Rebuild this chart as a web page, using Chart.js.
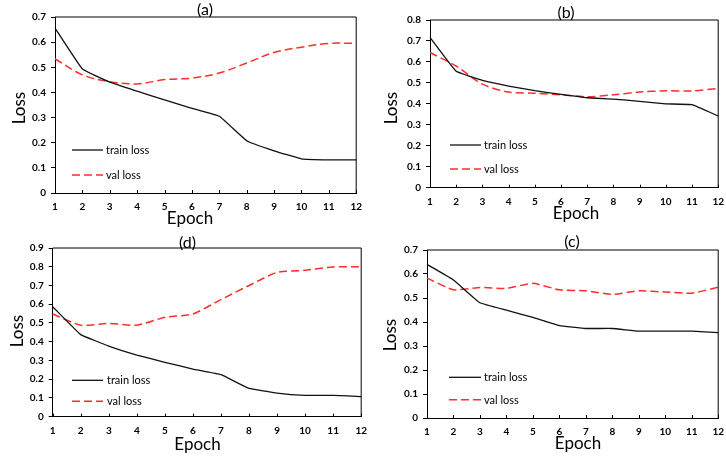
<!DOCTYPE html>
<html>
<head>
<meta charset="utf-8">
<script src="https://cdn.jsdelivr.net/npm/chart.js@4.4.1/dist/chart.umd.min.js"></script>
<style>
  html, body { margin:0; padding:0; background:#fff; }
  body { width:726px; height:457px; overflow:hidden; position:relative; }
  canvas { position:absolute; }
</style>
</head>
<body>
<canvas id="ca"></canvas>
<canvas id="cb"></canvas>
<canvas id="cd"></canvas>
<canvas id="cc"></canvas>
<script>
// ---------------- DATA ----------------
const epochs = ['1','2','3','4','5','6','7','8','9','10','11','12'];

const trainA = [0.656,0.493,0.441,0.405,0.370,0.337,0.305,0.208,0.168,0.136,0.132,0.132];
const valA   = [0.534,0.470,0.443,0.434,0.451,0.457,0.477,0.517,0.559,0.580,0.595,0.595];

const trainB = [0.717,0.555,0.512,0.485,0.463,0.445,0.429,0.423,0.412,0.400,0.396,0.342];
const valB   = [0.645,0.580,0.494,0.456,0.451,0.443,0.434,0.443,0.456,0.462,0.462,0.473];

const trainD = [0.587,0.438,0.377,0.329,0.290,0.254,0.224,0.151,0.126,0.114,0.114,0.107];
const valD   = [0.548,0.488,0.498,0.488,0.530,0.548,0.625,0.700,0.770,0.781,0.799,0.800];

const trainC = [0.640,0.575,0.480,0.449,0.419,0.385,0.373,0.373,0.362,0.362,0.362,0.356];
const valC   = [0.583,0.534,0.544,0.540,0.561,0.534,0.530,0.515,0.530,0.525,0.520,0.545];

const yTicksA = ['0','0.1','0.2','0.3','0.4','0.5','0.6','0.7'];
const yTicksB = ['0','0.1','0.2','0.3','0.4','0.5','0.6','0.7','0.8'];
const yTicksD = ['0','0.1','0.2','0.3','0.4','0.5','0.6','0.7','0.8','0.9'];
const yTicksC = ['0','0.1','0.2','0.3','0.4','0.5','0.6','0.7'];

const seriesNames = ['train loss','val loss'];
const panelTitles = ['(a)','(b)','(d)','(c)'];
const xTitle = 'Epoch';
const yTitle = 'Loss';

// ---------------- LAYOUT / STYLE ----------------
const FONT = 'Lato, "Open Sans", "Liberation Sans", sans-serif';
const panels = [
  {id:'ca', train:trainA, val:valA, yt:yTicksA, left:0,   top:0,   h:228,
   plot:{l:55,r:358,t:17,b:193}, title:[205,9.7], epoch:[190,218.3], loss:[20,108],
   leg:{x0:72,x1:103,tx:106,y:[150,175]}, tv:0.35},
  {id:'cb', train:trainB, val:valB, yt:yTicksB, left:363, top:0,   h:228,
   plot:{l:430,r:720,t:20,b:187.7}, title:[566,12.8], epoch:[576,214], loss:[392,108],
   leg:{x0:450,x1:481,tx:484,y:[145,169]}, tv:0.3},
  {id:'cd', train:trainD, val:valD, yt:yTicksD, left:0,   top:228, h:229,
   plot:{l:52.7,r:363,t:248,b:416.7}, title:[187.5,243], epoch:[197.5,445], loss:[17.5,331],
   leg:{x0:72,x1:103,tx:107,y:[380.3,401.3]}, tv:0.2},
  {id:'cc', train:trainC, val:valC, yt:yTicksC, left:363, top:228, h:229,
   plot:{l:427,r:720.3,t:250,b:418}, title:[572,241.5], epoch:[578,443.3], loss:[390.5,335],
   leg:{x0:449,x1:481,tx:484,y:[377.3,399.7]}, tv:0.15}
];

const decor = {
  id: 'decor',
  afterDraw(chart, args, o) {
    const ctx = chart.ctx, ca = chart.chartArea;
    ctx.save();
    ctx.strokeStyle = '#000'; ctx.lineWidth = 1; ctx.setLineDash([]);
    ctx.beginPath();
    ctx.moveTo(ca.left, ca.top); ctx.lineTo(ca.right, ca.top); ctx.lineTo(ca.right, ca.bottom);
    ctx.stroke();
    // inward x tick marks
    const xs = chart.scales.x;
    ctx.beginPath();
    xs.ticks.forEach((t, i) => {
      const x = Math.round(xs.getPixelForTick(i)) + 0.5;
      ctx.moveTo(x, ca.bottom); ctx.lineTo(x, ca.bottom - 3);
    });
    ctx.stroke();
    ctx.fillStyle = '#000';
    ctx.textAlign = 'center'; ctx.textBaseline = 'middle';
    o.texts.forEach(t => {
      ctx.save();
      ctx.font = t.font;
      ctx.translate(t.x - o.ox, t.y - o.oy);
      if (t.rot) ctx.rotate(-Math.PI / 2);
      ctx.fillText(t.text, 0, 0);
      ctx.restore();
    });
    ctx.font = '11px ' + FONT;
    ctx.textAlign = 'left';
    chart.data.datasets.forEach((ds, i) => {
      const y = o.leg.y[i] - o.oy;
      ctx.beginPath();
      ctx.setLineDash(ds.borderDash || []);
      ctx.strokeStyle = ds.borderColor;
      ctx.lineWidth = ds.borderWidth;
      ctx.moveTo(o.leg.x0 - o.ox, y); ctx.lineTo(o.leg.x1 - o.ox, y);
      ctx.stroke();
      ctx.setLineDash([]);
      ctx.fillStyle = '#000';
      ctx.fillText(ds.label, o.leg.tx - o.ox, y + 0.5);
    });
    ctx.restore();
  }
};

panels.forEach((p, idx) => {
  const cv = document.getElementById(p.id);
  const w = p.plot.r + 12 - p.left;
  cv.width = w; cv.height = p.h;
  cv.style.left = p.left + 'px'; cv.style.top = p.top + 'px';
  cv.style.width = w + 'px'; cv.style.height = p.h + 'px';
  const yMax = parseFloat(p.yt[p.yt.length - 1]);
  new Chart(cv, {
    type: 'line',
    data: {
      labels: epochs,
      datasets: [
        {label: seriesNames[0], data: p.train, borderColor:'#111', borderWidth:1.3,
         pointRadius:0, tension:0.08, fill:false},
        {label: seriesNames[1], data: p.val, borderColor:'rgb(255,45,45)', borderWidth:1.5,
         borderDash:[8,4], pointRadius:0, tension:p.tv, fill:false}
      ]
    },
    options: {
      responsive:false, animation:false, devicePixelRatio:1,
      layout: {padding: {left:0, right:12, top: p.plot.t - p.top, bottom:0}},
      plugins: {
        legend:{display:false}, tooltip:{enabled:false}, title:{display:false},
        decor: {
          ox: p.left, oy: p.top, leg: p.leg,
          texts: [
            {text: panelTitles[idx], x:p.title[0], y:p.title[1], font:'16px ' + FONT},
            {text: xTitle, x:p.epoch[0], y:p.epoch[1], font:'17px ' + FONT},
            {text: yTitle, x:p.loss[0], y:p.loss[1], font:'17px ' + FONT, rot:true}
          ]
        }
      },
      scales: {
        x: {
          type:'category', offset:false,
          grid:{display:true, drawOnChartArea:false, drawTicks:false, color:'#000'},
          border:{display:true, color:'#000', width:1},
          ticks:{color:'#000', font:{family:FONT, size:10, weight:'bold'}, padding:8, maxRotation:0, autoSkip:false},
          afterFit: s => { s.height = (p.top + p.h) - p.plot.b; }
        },
        y: {
          min:0, max:yMax,
          grid:{display:true, drawOnChartArea:false, drawTicks:true, tickLength:4, color:'#000'},
          border:{display:true, color:'#000', width:1},
          ticks:{stepSize:0.1, color:'#000', font:{family:FONT, size:10, weight:'bold'}, padding:5,
                 callback:(v, i) => p.yt[i]},
          afterFit: s => { s.width = p.plot.l - p.left; }
        }
      }
    },
    plugins: [decor]
  });
});
</script>
</body>
</html>
